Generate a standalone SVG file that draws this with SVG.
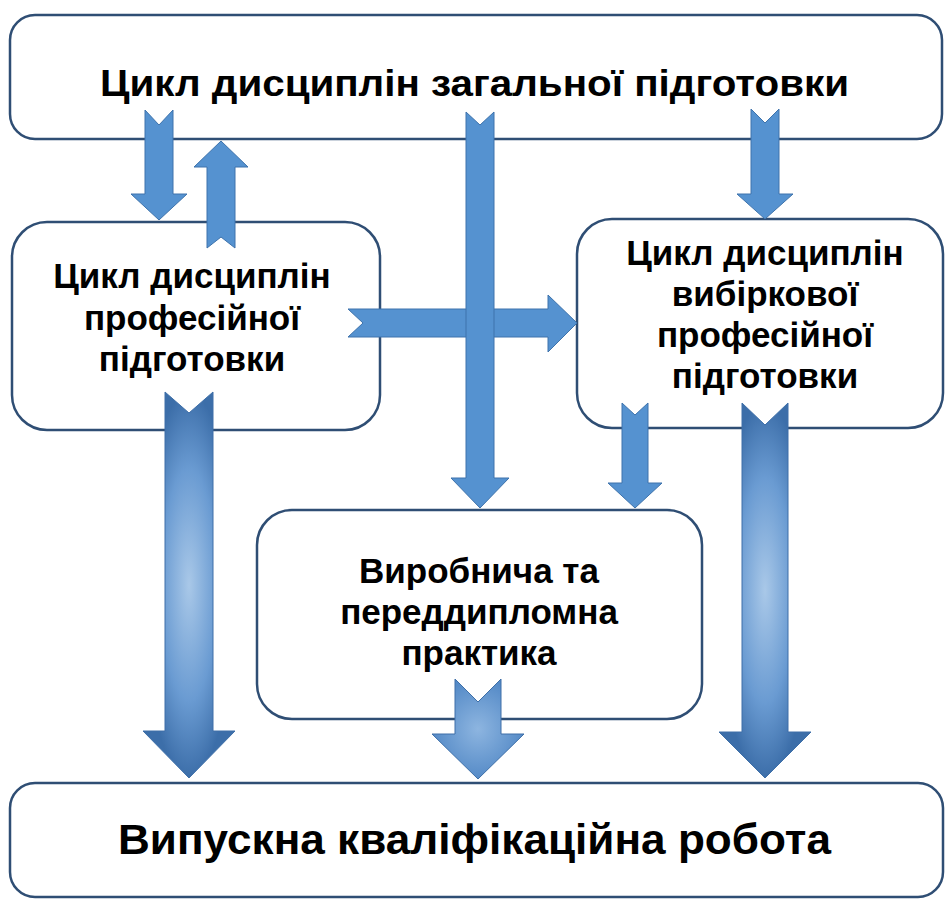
<svg xmlns="http://www.w3.org/2000/svg" width="948" height="900" viewBox="0 0 948 900">
<defs>
<radialGradient id="g" cx="0.5" cy="0.5" r="0.5">
<stop offset="0" stop-color="#A9C8E8"/>
<stop offset="0.6" stop-color="#6A9BD2"/>
<stop offset="1" stop-color="#3C6EA9"/>
</radialGradient>
<radialGradient id="g2" cx="0.5" cy="0.5" r="0.6">
<stop offset="0" stop-color="#8DB5E0"/>
<stop offset="1" stop-color="#4A82C2"/>
</radialGradient>
<style>
.box{fill:#fff;stroke:#2F4E74;stroke-width:2.5}
.ar{fill:#5592D0;stroke:#3E73AC;stroke-width:1}
.gr{fill:url(#g);stroke:#3E6FA8;stroke-width:1}
.gr2{fill:url(#g2);stroke:#3E6FA8;stroke-width:1}
.t{font-family:"Liberation Sans",Arial,sans-serif;font-weight:bold;fill:#000;text-anchor:middle}
.m{font-size:35px}
</style>
</defs>
<rect width="948" height="900" fill="#fff"/>
<g id="top"><rect class="box" x="10" y="15" width="932" height="124" rx="25"/>
<text class="t" x="474.5" y="96" font-size="37" textLength="749" lengthAdjust="spacingAndGlyphs">Цикл дисциплін загальної підготовки</text></g>
<g id="prof"><rect class="box" x="12" y="222" width="368" height="208" rx="35"/>
<text class="t m" x="192" y="288">Цикл дисциплін</text>
<text class="t m" x="192" y="330">професійної</text>
<text class="t m" x="192" y="371">підготовки</text></g>
<g id="vyb"><rect class="box" x="577" y="219" width="366" height="209" rx="35"/>
<text class="t m" x="765" y="265">Цикл дисциплін</text>
<text class="t m" x="765" y="306">вибіркової</text>
<text class="t m" x="765" y="347">професійної</text>
<text class="t m" x="765" y="388">підготовки</text></g>
<g id="prakt"><rect class="box" x="257" y="510" width="445" height="209" rx="35"/>
<text class="t m" x="479" y="583">Виробнича та</text>
<text class="t m" x="479" y="624">переддипломна</text>
<text class="t m" x="479" y="665">практика</text></g>
<g id="vkr"><rect class="box" x="10" y="783" width="933" height="114" rx="25"/>
<text class="t" x="474.5" y="854" font-size="43" textLength="713" lengthAdjust="spacingAndGlyphs">Випускна кваліфікаційна робота</text></g>
<g id="connectors">
<path class="ar" d="M145,110 L159,125 L173,110 L173,194 L187,194 L159,220 L131,194 L145,194 Z"/>
<path class="ar" d="M207,248 L221,237 L235,248 L235,167 L248,167 L221,141 L194,167 L207,167 Z"/>
<path class="ar" d="M751,109 L765,123 L779,109 L779,194 L793,194 L765,219 L737,194 L751,194 Z"/>
<path class="ar" d="M348,309 L363,323 L348,337 L548,337 L548,352 L577,323 L548,295 L548,309 Z"/>
<path class="ar" d="M466,112 L480,125 L494,112 L494,478 L509,478 L480,508 L451,478 L466,478 Z"/>
<path class="ar" d="M622,403 L635,415 L648,403 L648,483 L662,483 L635,508 L608,483 L622,483 Z"/>
<path class="gr" d="M165,392 L189,413 L213,392 L213,731 L235,731 L189,778 L143,731 L165,731 Z"/>
<path class="gr" d="M742,403 L765,425 L788,403 L788,732 L811,732 L765,778 L719,732 L742,732 Z"/>
<path class="gr2" d="M455,679 L478,702 L501,679 L501,734 L524,734 L478,779 L432,734 L455,734 Z"/>
</g>
</svg>
